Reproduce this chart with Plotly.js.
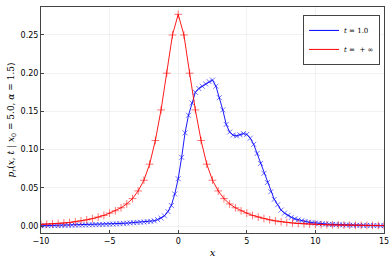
<!DOCTYPE html>
<html>
<head>
<meta charset="utf-8">
<script src="https://cdn.plot.ly/plotly-3.0.1.min.js"></script>
<style>html,body{margin:0;padding:0;background:#fff;}#chart{width:392px;height:262px;}</style>
</head>
<body>
<div id="chart"></div>
<script>
// Red series (t = +inf): grid from -10 to 15, step 5/12
const redStart = -10, redStep = 5 / 12;
const redValues = [
  0.0023, 0.0026, 0.0030, 0.0035, 0.0041, 0.0048, 0.0057, 0.0068, 0.0082, 0.0098,
  0.0118, 0.0140, 0.0170, 0.0200, 0.0240, 0.0290, 0.0360, 0.0460, 0.0600, 0.0810,
  0.1120, 0.1520, 0.2000, 0.2500, 0.2770, 0.2500, 0.2000, 0.1520, 0.1120, 0.0810,
  0.0600, 0.0460, 0.0360, 0.0290, 0.0240, 0.0200, 0.0170, 0.0140, 0.0118, 0.0098,
  0.0082, 0.0068, 0.0057, 0.0048, 0.0041, 0.0035, 0.0030, 0.0026, 0.0023, 0.0020,
  0.0018, 0.0016, 0.0014, 0.0013, 0.0012, 0.0011, 0.0010, 0.0009, 0.00085, 0.0008,
  0.00075
];
// Blue series (t = 1.0): grid from -10 to 15, step 0.25
const blueStart = -10, blueStep = 0.25;
const blueValues = [
  0.0005, 0.0006, 0.0006, 0.0007, 0.0008, 0.0008, 0.0009, 0.0010, 0.0011, 0.0012,
  0.0013, 0.0014, 0.0015, 0.0016, 0.0017, 0.0018, 0.0019, 0.0020, 0.0022, 0.0024,
  0.0026, 0.0028, 0.0030, 0.0033, 0.0036, 0.0039, 0.0042, 0.0045, 0.0048, 0.0051,
  0.0054, 0.0058, 0.0062, 0.0070, 0.0085, 0.0105, 0.0135, 0.0190, 0.0270, 0.0420,
  0.0620, 0.0900, 0.1220, 0.1450, 0.1610, 0.1750, 0.1800, 0.1830, 0.1860, 0.1890,
  0.1910, 0.1830, 0.1680, 0.1520, 0.1330, 0.1230, 0.1190, 0.1180, 0.1195, 0.1210,
  0.1200, 0.1150, 0.1070, 0.0950, 0.0820, 0.0690, 0.0570, 0.0450, 0.0350, 0.0280,
  0.0210, 0.0170, 0.0140, 0.0115, 0.0095, 0.0082, 0.0070, 0.0060, 0.0052, 0.0046,
  0.0040, 0.0035, 0.0031, 0.0027, 0.0024, 0.0022, 0.0020, 0.0018, 0.0016, 0.0015,
  0.0013, 0.0012, 0.0011, 0.0010, 0.0009, 0.0009, 0.0008, 0.0007, 0.0007, 0.0006,
  0.0006
];
const seriesNames = ["<i>t</i> = 1.0", "<i>t</i> =  + ∞"];
const xTicks = [-10, -5, 0, 5, 10, 15];
const yTicks = [0, 0.05, 0.10, 0.15, 0.20, 0.25];
const yTickLabels = ["0.00", "0.05", "0.10", "0.15", "0.20", "0.25"];

const redX = redValues.map((_, i) => redStart + i * redStep);
const blueX = blueValues.map((_, i) => blueStart + i * blueStep);

const serif = "DejaVu Serif, Liberation Serif, serif";
const sans = "DejaVu Sans, Liberation Sans, sans-serif";

const traces = [
  {
    x: blueX, y: blueValues, type: "scatter", mode: "lines+markers",
    showlegend: false,
    line: {color: "#0000ff", width: 0.9},
    marker: {symbol: "x-thin", size: 5, color: "rgba(0,0,255,0.55)",
             line: {color: "rgba(0,0,255,0.55)", width: 1}}
  },
  {
    x: redX, y: redValues, type: "scatter", mode: "lines+markers",
    showlegend: false,
    line: {color: "#ff0000", width: 0.9},
    marker: {symbol: "cross-thin", size: 5.5, color: "rgba(255,0,0,0.55)",
             line: {color: "rgba(255,0,0,0.55)", width: 1}}
  },
  {x: [null], y: [null], type: "scatter", mode: "lines", name: seriesNames[0],
   line: {color: "#0000ff", width: 1}},
  {x: [null], y: [null], type: "scatter", mode: "lines", name: seriesNames[1],
   line: {color: "#ff0000", width: 1}}
];

const layout = {
  width: 392, height: 262,
  margin: {l: 41, r: 8, t: 7, b: 29},
  paper_bgcolor: "#fff", plot_bgcolor: "#fff",
  showlegend: true,
  legend: {x: 0.764, y: 0.965, xanchor: "left", yanchor: "top",
           bgcolor: "#fff", bordercolor: "#444", borderwidth: 1,
           font: {family: serif, size: 7, color: "#000"},
           tracegroupgap: 0, itemwidth: 30},
  xaxis: {
    range: [-10, 15], tickvals: xTicks, ticktext: xTicks.map(v => v < 0 ? "\u2212" + Math.abs(v) : String(v)),
    ticks: "inside", ticklen: 3, tickcolor: "#444",
    showgrid: true, gridcolor: "rgba(0,0,0,0.1)", gridwidth: 0.5,
    zeroline: false, showline: true, linecolor: "#444", linewidth: 1, mirror: true,
    tickfont: {family: sans, size: 8, color: "#000"},
    title: {text: "<i>x</i>", font: {family: serif, size: 10, color: "#000"}, standoff: 4}
  },
  yaxis: {
    range: [-0.009, 0.2866], tickvals: yTicks, ticktext: yTickLabels,
    ticks: "inside", ticklen: 3, tickcolor: "#444",
    showgrid: true, gridcolor: "rgba(0,0,0,0.1)", gridwidth: 0.5,
    zeroline: false, showline: true, linecolor: "#444", linewidth: 1, mirror: true,
    tickfont: {family: sans, size: 8, color: "#000"},
    title: {text: "<i>p</i><sub><i>r</i></sub>(<i>x</i>, <i>t</i> | <i>x</i><sub>0</sub> = 5.0, <i>α</i> = 1.5)",
            font: {family: serif, size: 9, color: "#000"}, standoff: 4}
  }
};

Plotly.newPlot("chart", traces, layout, {staticPlot: true, displayModeBar: false});
</script>
</body>
</html>
